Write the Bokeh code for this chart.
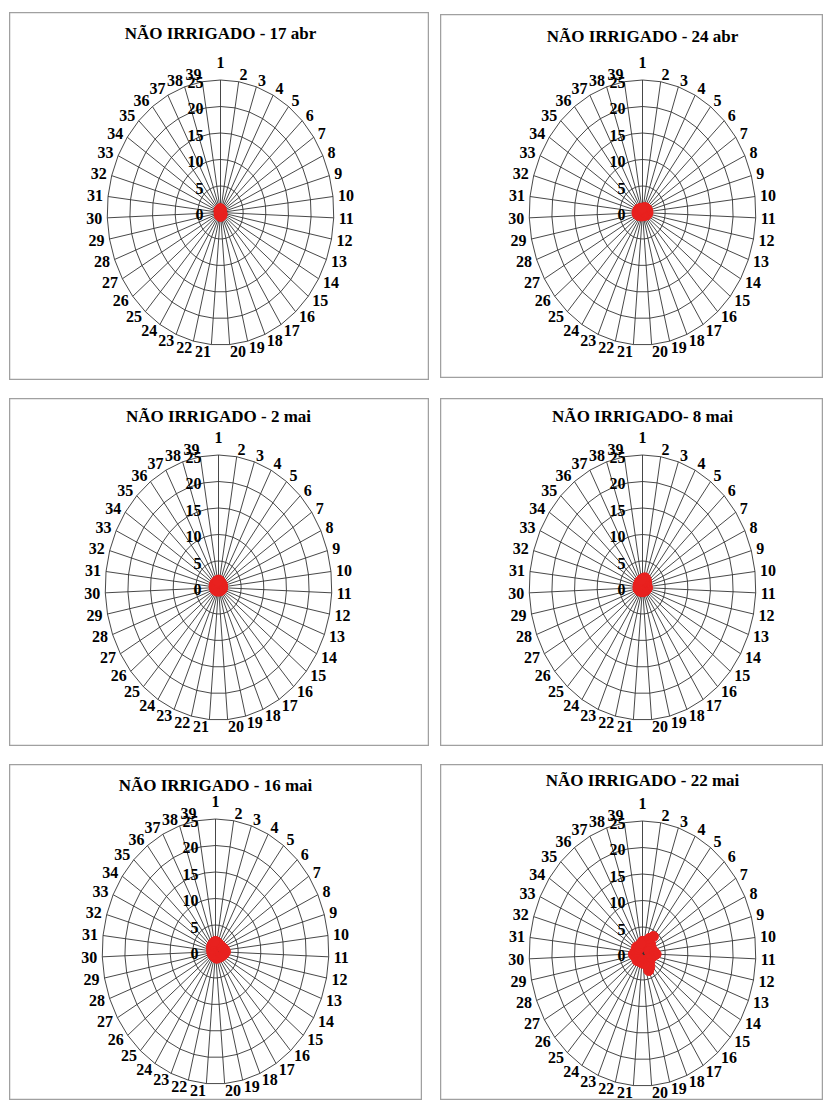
import numpy as np
from bokeh.plotting import figure
from bokeh.models import Label, Spacer, ColumnDataSource
from bokeh.layouts import row, column
from bokeh.embed import file_html
from bokeh.resources import INLINE
from bokeh.core.properties import value

# ---------------- data ----------------
spokes = [str(i) for i in range(1, 40)]
rings = [5, 10, 15, 20, 25]
ring_labels = ["0", "5", "10", "15", "20", "25"]
ring_values = [0, 5, 10, 15, 20, 25]

titles = ["NÃO IRRIGADO - 17 abr", "NÃO IRRIGADO - 24 abr", "NÃO IRRIGADO - 2 mai",
          "NÃO IRRIGADO- 8 mai", "NÃO IRRIGADO - 16 mai", "NÃO IRRIGADO - 22 mai"]

vals_17abr = [0.7, 0.6, 0.5, 0.4, 0.3, 0.3, 0.2, 0.2, 0.2, 0.1, 0.2, 0.2, 0.3, 0.3, 0.4,
              0.5, 0.5, 0.6, 0.7, 0.7, 0.7, 0.6, 0.6, 0.5, 0.4, 0.3, 0.3, 0.2, 0.2, 0.1,
              0.2, 0.2, 0.3, 0.3, 0.4, 0.5, 0.5, 0.6, 0.7]
vals_24abr = [0.7, 0.8, 0.9, 1.0, 1.1, 1.0, 1.2, 1.1, 1.2, 1.1, 1.2, 1.0, 1.1, 0.9, 0.8,
              0.7, 0.6, 0.6, 0.5, 0.6, 0.6, 0.5, 0.7, 0.6, 0.8, 0.9, 1.0, 1.1, 1.2, 1.1,
              1.2, 1.1, 1.0, 1.1, 0.9, 0.8, 0.9, 0.7, 0.8]
vals_2mai = [1.4, 1.3, 1.2, 1.1, 1.0, 0.9, 1.0, 0.9, 0.8, 0.9, 0.8, 0.9, 0.8, 0.7, 0.8,
             0.7, 0.6, 0.7, 0.6, 0.5, 0.6, 0.7, 0.6, 0.7, 0.8, 0.7, 0.8, 0.9, 0.8, 0.9,
             1.0, 0.9, 1.0, 1.1, 1.0, 1.2, 1.1, 1.3, 1.2]
vals_8mai = [1.6, 1.8, 1.9, 1.7, 1.5, 1.2, 1.1, 1.0, 0.9, 1.0, 1.1, 0.9, 1.0, 0.8, 0.9,
             0.8, 0.7, 0.8, 0.7, 0.8, 0.7, 0.8, 0.7, 0.8, 0.9, 0.8, 0.9, 1.0, 0.9, 1.0,
             0.9, 1.0, 0.9, 1.1, 1.0, 1.2, 1.3, 1.4, 1.5]
vals_16mai = [1.9, 1.8, 1.7, 1.6, 1.5, 1.4, 1.6, 1.7, 1.9, 2.1, 2.2, 2.0, 1.8, 1.6, 1.5,
              1.4, 1.3, 1.2, 1.3, 1.2, 1.1, 1.0, 0.9, 0.8, 0.9, 0.8, 0.7, 0.8, 0.7, 0.8,
              0.7, 0.8, 0.9, 1.0, 1.2, 1.3, 1.5, 1.6, 1.8]
vals_22mai = [2.3, 2.0, 1.8, 3.2, 4.0, 2.5, 1.8, 2.2, 1.5, 2.6, 3.0, 2.4, 1.8, 2.0, 1.6,
              2.4, 3.0, 3.5, 2.0, 1.5, 1.8, 1.2, 1.6, 1.4, 1.8, 1.2, 1.5, 1.6, 1.9, 2.0,
              1.5, 1.2, 1.6, 1.3, 1.8, 1.5, 1.2, 1.6, 1.9]

FONT = "Liberation Serif"
GRID = "#333333"
RED = "#e8211f"
RMAX = max(rings)
RX_PX = 113.3   # horizontal pixel radius of outer ring
RY_PX = 132.5   # vertical pixel radius of outer ring


def radar(title, vals, W, H, cx, cy, ty):
    sx = RX_PX / RMAX
    sy = RY_PX / RMAX
    p = figure(width=W, height=H,
               x_range=(-cx / sx, (W - cx) / sx),
               y_range=(-(H - cy) / sy, cy / sy),
               output_backend="svg", toolbar_location=None, tools="",
               x_axis_location=None, y_axis_location=None, min_border=0)
    p.grid.visible = False
    p.outline_line_color = "#a0a0a0"
    p.outline_line_width = 1.5
    p.background_fill_color = "white"
    p.border_fill_color = "white"

    n = len(spokes)
    ang = np.arange(n) * 2 * np.pi / n
    s, c = np.sin(ang), np.cos(ang)

    # rings (polygons through spokes)
    xs = [list(r * np.append(s, s[0])) for r in rings]
    ys = [list(r * np.append(c, c[0])) for r in rings]
    p.multi_line(xs, ys, line_color=GRID, line_width=0.9)
    # spokes
    p.segment(x0=np.zeros(n), y0=np.zeros(n), x1=RMAX * s, y1=RMAX * c,
              line_color=GRID, line_width=0.9)

    # spoke labels
    align = ["left" if si > 1e-6 else ("right" if si < -1e-6 else "center") for si in s]
    xoff = 5 * s
    yoff = -(7 + 11 * (np.abs(s) < 1e-6)) * c
    src = ColumnDataSource(dict(x=RMAX * s, y=RMAX * c, t=spokes, a=align, xo=xoff, yo=yoff))
    p.text(x="x", y="y", text="t", source=src, text_align="a", text_baseline="middle",
           x_offset="xo", y_offset="yo", text_font=value(FONT), text_font_style="bold",
           text_font_size="16px", text_color="black")

    # radial labels
    p.text(x=np.zeros(len(ring_values)), y=ring_values, text=ring_labels,
           text_align="right", text_baseline="middle", x_offset=-17, y_offset=2,
           text_font=value(FONT), text_font_style="bold", text_font_size="16px",
           text_color="black")

    # data points
    v = np.array(vals)
    p.scatter(x=v * s, y=v * c, size=10, fill_color=RED, line_color=RED)

    p.add_layout(Label(x=cx, y=H - ty, x_units="screen", y_units="screen", text=title,
                       text_align="center", text_baseline="middle", text_font=FONT,
                       text_font_style="bold", text_font_size="17px", text_color="black"))
    return p


p1 = radar(titles[0], vals_17abr, 420, 368, 211, 200, 21)
p2 = radar(titles[1], vals_24abr, 383, 364, 202, 198, 22)
p3 = radar(titles[2], vals_2mai, 420, 348, 209, 189, 18)
p4 = radar(titles[3], vals_8mai, 383, 348, 202, 189, 18)
p5 = radar(titles[4], vals_16mai, 413, 336, 206, 187, 21)
p6 = radar(titles[5], vals_22mai, 383, 336, 202, 189, 16)

layout = column(
    Spacer(height=12),
    row(Spacer(width=9), p1, Spacer(width=11), column(Spacer(height=2), p2)),
    Spacer(height=18),
    row(Spacer(width=9), p3, Spacer(width=11), p4),
    Spacer(height=18),
    row(Spacer(width=9), p5, Spacer(width=18), p6),
)

open("out.html", "w").write(file_html(layout, INLINE))
